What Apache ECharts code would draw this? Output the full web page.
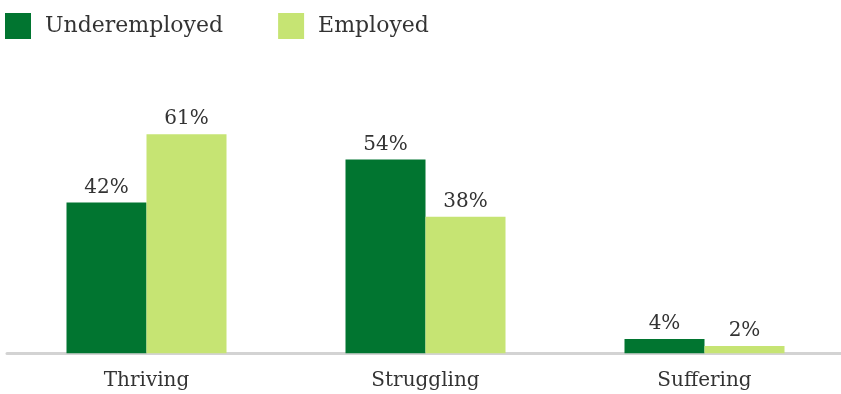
<!DOCTYPE html>
<html>
<head>
<meta charset="utf-8">
<script src="https://cdn.jsdelivr.net/npm/echarts@6/dist/echarts.min.js"></script>
<style>
  html, body { margin: 0; padding: 0; background: #fff; }
  #chart { width: 841px; height: 394px; }
</style>
</head>
<body>
<div id="chart"></div>
<script>
// Wellbeing categories and shares (%) by employment status
const categories = ['Thriving', 'Struggling', 'Suffering'];
const underemployed = [42, 54, 4];
const employed = [61, 38, 2];

const FONT = 'DejaVu Serif';
const TEXT = '#333333';

const chart = echarts.init(document.getElementById('chart'), null, { renderer: 'canvas' });

const labelStyle = {
  show: true,
  position: 'top',
  distance: 5,
  formatter: p => p.value + '%',
  color: TEXT,
  fontFamily: FONT,
  fontSize: 20
};

chart.setOption({
  animation: false,
  backgroundColor: '#ffffff',
  legend: {
    left: 0,
    top: 8,
    itemWidth: 26,
    itemHeight: 26,
    itemGap: 55,
    icon: 'rect',
    textStyle: { color: TEXT, fontFamily: FONT, fontSize: 22, padding: [0, 0, 0, 9] },
    data: ['Underemployed', 'Employed']
  },
  grid: { left: 7, width: 837, top: 58.9, bottom: 40.7, outerBoundsMode: 'none', containLabel: false },
  xAxis: {
    type: 'category',
    data: categories,
    axisLine: { show: true, lineStyle: { color: '#d3d3d3', width: 3 } },
    axisTick: { show: false },
    axisLabel: { color: TEXT, fontFamily: FONT, fontSize: 20, margin: 17 }
  },
  yAxis: {
    type: 'value',
    min: 0,
    max: 82,
    show: false,
    splitLine: { show: false }
  },
  series: [
    {
      name: 'Underemployed',
      type: 'bar',
      data: underemployed,
      barWidth: 80,
      barGap: '0%',
      itemStyle: { color: '#017530' },
      label: labelStyle
    },
    {
      name: 'Employed',
      type: 'bar',
      data: employed,
      barWidth: 80,
      barGap: '0%',
      itemStyle: { color: '#c6e473' },
      label: labelStyle
    }
  ]
});
</script>
</body>
</html>
